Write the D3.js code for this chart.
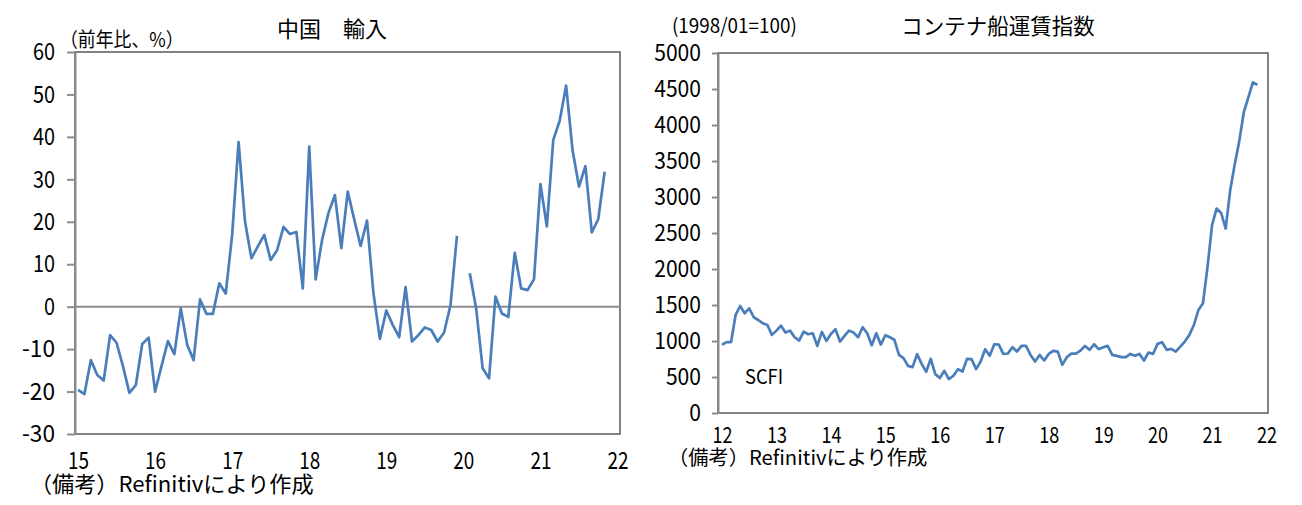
<!DOCTYPE html>
<html>
<head>
<meta charset="utf-8">
<script src="https://d3js.org/d3.v7.min.js"></script>
<style>
  body { margin: 0; background: #fff; }
  text { font-family: "Noto Sans CJK JP", "Noto Sans", sans-serif; fill: #000; }
</style>
</head>
<body>
<script>

// China imports, YoY % (monthly, Jan 2015 - Nov 2021, Jan 2020 not reported)
const chinaImports = [
  -19.6, -20.6, -12.6, -16.1, -17.4, -6.7, -8.5, -14.0, -20.3, -18.5, -8.8, -7.3,
  -20.0, -14.0, -8.1, -11.2, -0.4, -9.0, -12.6, 1.7, -1.7, -1.7, 5.5, 3.1,
  16.9, 38.8, 20.1, 11.4, 14.2, 16.9, 11.0, 13.3, 18.8, 17.1, 17.6, 4.3,
  37.7, 6.4, 15.7, 22.1, 26.3, 13.8, 27.1, 20.6, 14.3, 20.3, 3.2, -7.6,
  -0.9, -4.3, -7.2, 4.6, -8.2, -6.7, -4.9, -5.5, -8.2, -6.1, 0.4, 16.7,
  null, 7.9, -0.5, -14.5, -16.9, 2.4, -1.6, -2.4, 12.7, 4.3, 3.9, 6.5,
  28.9, 18.9, 39.3, 43.8, 52.1, 36.9, 28.3, 33.1, 17.5, 20.6, 31.8
];
const leftYears = ["15", "16", "17", "18", "19", "20", "21", "22"];
const leftTicks = [-30, -20, -10, 0, 10, 20, 30, 40, 50, 60];

// SCFI container freight index (monthly, Jan 2012 - Nov 2021)
const scfi = [
  946, 985, 985, 1362, 1486, 1385, 1454, 1330, 1292, 1246, 1223, 1085,
  1144, 1213, 1117, 1144, 1052, 1006, 1130, 1094, 1107, 932, 1126, 1001,
  1098, 1163, 992, 1071, 1144, 1117, 1052, 1191, 1107, 942, 1107, 950,
  1080, 1052, 1015, 807, 762, 655, 637, 817, 683, 572, 752, 540,
  485, 586, 471, 517, 609, 576, 752, 748, 609, 715, 886, 794,
  955, 950, 821, 826, 914, 853, 932, 932, 807, 715, 807, 729,
  821, 863, 853, 669, 776, 826, 826, 867, 932, 877, 955, 886,
  914, 932, 807, 794, 776, 776, 821, 794, 821, 729, 840, 821,
  960, 983, 877, 891, 853, 923, 992, 1085, 1223, 1431, 1524, 2030,
  2608, 2839, 2778, 2562, 3093, 3453, 3776, 4177, 4385, 4593, 4557
];
const rightYears = ["12", "13", "14", "15", "16", "17", "18", "19", "20", "21", "22"];
const rightTicks = d3.range(0, 5001, 500);

const lineColor = "#4a7ebb";
const frameColor = "#5a5a5a";
const axisColor = "#8c8c8c";

const svg = d3.select("body")
              .append("svg")
              .attr("width", 1302)
              .attr("height", 505);

// squeeze text: latin chars get a half-width cell, kana/kanji a full one
// (fs = glyph size, hw = width of a half-width cell)
function narrow(sel, fs, hw) {
    hw = hw || fs * 0.5;
    sel.attr("font-size", fs + "px")
       .each(function() {
           const t = d3.select(this).text();
           let w = 0;
           for (const c of t) w += c.charCodeAt(0) < 256 ? 1 : 2;
           d3.select(this)
             .attr("textLength", w * hw)
             .attr("lengthAdjust", "spacingAndGlyphs");
       });
}

function label(x, y, txt, fs, hw, anchor) {
    svg.append("text")
       .attr("x", x)
       .attr("y", y)
       .attr("text-anchor", anchor || "start")
       .text(txt)
       .call(narrow, fs, hw);
}

// ---------------- left panel: China imports ----------------
const L = { left: 75, right: 620, top: 52, bottom: 434 };

const xL = d3.scaleLinear()
             .domain([0, 84])
             .range([78, 617.5]);

const yL = d3.scaleLinear()
             .domain([-30, 60])
             .range([L.bottom, L.top]);

svg.append("rect")
   .attr("x", L.left)
   .attr("y", L.top)
   .attr("width", L.right - L.left)
   .attr("height", L.bottom - L.top)
   .attr("fill", "none")
   .attr("stroke", frameColor)
   .attr("stroke-width", 1.5);

const axL = svg.append("g")
   .attr("transform", `translate(${L.left},0)`)
   .call(d3.axisLeft(yL).tickValues(leftTicks).tickSize(8).tickSizeOuter(0)
           .tickPadding(12).tickFormat(d => String(d)));
axL.select(".domain").attr("stroke", axisColor).attr("stroke-width", 2);
axL.selectAll(".tick line").attr("stroke", axisColor).attr("stroke-width", 2);
axL.selectAll(".tick text").call(narrow, 24, 11);

const bxL = svg.append("g")
   .attr("transform", `translate(0,${L.bottom})`)
   .call(d3.axisBottom(xL).tickValues(d3.range(0, 85, 12)).tickSize(0)
           .tickPadding(18).tickFormat((d, i) => leftYears[i]));
bxL.select(".domain").remove();
bxL.selectAll(".tick text").call(narrow, 24, 10.5);

// zero line
svg.append("line")
   .attr("x1", L.left)
   .attr("x2", L.right)
   .attr("y1", yL(0))
   .attr("y2", yL(0))
   .attr("stroke", axisColor)
   .attr("stroke-width", 2);

svg.append("path")
   .datum(chinaImports)
   .attr("fill", "none")
   .attr("stroke", lineColor)
   .attr("stroke-width", 2.7)
   .attr("stroke-linejoin", "round")
   .attr("d", d3.line()
                .defined(d => d != null)
                .x((d, i) => xL(i))
                .y(d => yL(d)));

label(332, 37, "中国　輸入", 22, 11, "middle");
label(60, 47, "（前年比、%）", 20, 9.5);
label(30, 492, "（備考）Refinitivにより作成", 22, 10.5);

// ---------------- right panel: container freight index ----------------
const R = { left: 718, right: 1268, top: 53, bottom: 413 };

const xR = d3.scaleLinear()
             .domain([0, 120])
             .range([722, 1266.5]);

const yR = d3.scaleLinear()
             .domain([0, 5000])
             .range([R.bottom, R.top]);

svg.append("rect")
   .attr("x", R.left)
   .attr("y", R.top)
   .attr("width", R.right - R.left)
   .attr("height", R.bottom - R.top)
   .attr("fill", "none")
   .attr("stroke", frameColor)
   .attr("stroke-width", 1.5);

const axR = svg.append("g")
   .attr("transform", `translate(${R.left},0)`)
   .call(d3.axisLeft(yR).tickValues(rightTicks).tickSize(6).tickSizeOuter(0)
           .tickPadding(11).tickFormat(d => String(d)));
axR.select(".domain").attr("stroke", axisColor).attr("stroke-width", 2);
axR.selectAll(".tick line").attr("stroke", axisColor).attr("stroke-width", 2);
axR.selectAll(".tick text").call(narrow, 23, 11.7);

const bxR = svg.append("g")
   .attr("transform", `translate(0,${R.bottom})`)
   .call(d3.axisBottom(xR).tickValues(d3.range(0, 121, 12)).tickSize(0)
           .tickPadding(14).tickFormat((d, i) => rightYears[i]));
bxR.select(".domain").remove();
bxR.selectAll(".tick text").call(narrow, 22, 10);

svg.append("path")
   .datum(scfi)
   .attr("fill", "none")
   .attr("stroke", lineColor)
   .attr("stroke-width", 2.7)
   .attr("stroke-linejoin", "round")
   .attr("d", d3.line()
                .x((d, i) => xR(i))
                .y(d => yR(d)));

label(998, 34, "コンテナ船運賃指数", 21.5, 10.75, "middle");
label(672, 33, "(1998/01=100)", 20, 9.6);
label(745, 384, "SCFI", 20, 9.5);
label(668, 465, "（備考）Refinitivにより作成", 20, 9.6);

</script>
</body>
</html>
